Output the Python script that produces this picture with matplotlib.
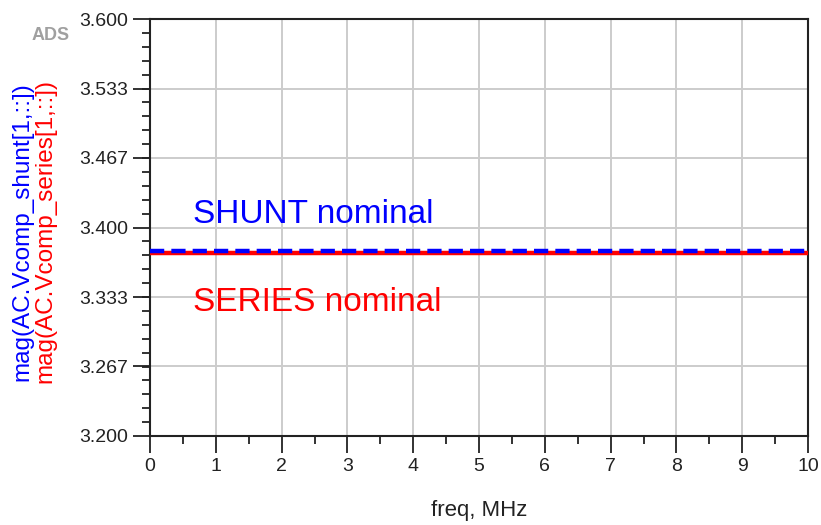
import numpy as np
import matplotlib
matplotlib.use("Agg")
import matplotlib.pyplot as plt
from matplotlib.ticker import MultipleLocator, FixedLocator

# =========================
# DATOS
# =========================
freq_mhz = [0, 1, 2, 3, 4, 5, 6, 7, 8, 9, 10]
vcomp_shunt = [3.3775] * 11
vcomp_series = [3.3757] * 11

y_ticks = [3.200, 3.267, 3.333, 3.400, 3.467, 3.533, 3.600]
y_tick_labels = ["3.200", "3.267", "3.333", "3.400", "3.467", "3.533", "3.600"]
x_ticks = [0, 1, 2, 3, 4, 5, 6, 7, 8, 9, 10]

plt.rcParams["font.family"] = ["Liberation Sans", "DejaVu Sans"]

# =========================
# FIGURA
# =========================
fig = plt.figure(figsize=(8.21, 5.25), dpi=100)
ax = fig.add_axes([150 / 821, 89 / 525, 658 / 821, 417 / 525])

ax.plot(freq_mhz, vcomp_series, color="#ff0000", lw=3.2, solid_capstyle="butt", zorder=3)
ax.plot(freq_mhz, vcomp_shunt, color="#0000ff", lw=3.2, ls=(0, (3.2, 1.6)),
        dash_capstyle="butt", zorder=4)

ax.set_xlim(0, 10)
ax.set_ylim(3.2, 3.6)

ax.xaxis.set_minor_locator(MultipleLocator(0.5))
ax.set_xticks(x_ticks)
ax.set_xticklabels([str(v) for v in x_ticks])

ax.set_yticks(y_ticks)
ax.set_yticklabels(y_tick_labels)
ax.yaxis.set_minor_locator(FixedLocator(np.linspace(3.2, 3.6, 31)))

ax.tick_params(which="major", direction="out", length=12, width=1.3, labelsize=14,
               color="#222222", labelcolor="#222222", pad=4)
ax.tick_params(which="minor", direction="out", length=6, width=1.3, color="#222222")
ax.tick_params(axis="x", which="both", top=False)
ax.tick_params(axis="y", which="both", right=False)

ax.grid(True, which="major", color="#cccccc", lw=1.4)
ax.set_axisbelow(True)
for sp in ax.spines.values():
    sp.set_color("#222222")
    sp.set_linewidth(1.5)

ax.set_xlabel("freq, MHz", fontsize=16, color="#222222", labelpad=18)

# anotaciones
ax.text(0.65, 3.4127, "SHUNT nominal", color="#0000ff", fontsize=24, va="center", ha="left")
ax.text(0.65, 3.3285, "SERIES nominal", color="#ff0000", fontsize=24, va="center", ha="left")

# etiquetas del eje y (rotadas)
fig.text(22 / 821, 1 - 381 / 525, "mag(AC.Vcomp_shunt[1,::])", color="#0000ff",
         fontsize=17.5, rotation=90, ha="center", va="bottom")
fig.text(45 / 821, 1 - 383 / 525, "mag(AC.Vcomp_series[1,::])", color="#ff0000",
         fontsize=17.5, rotation=90, ha="center", va="bottom")
fig.text(51 / 821, 1 - 36 / 525, "ADS", color="#a0a0a0", fontsize=13, fontweight="bold",
         ha="center", va="center")

fig.savefig("out.png", dpi=100)
